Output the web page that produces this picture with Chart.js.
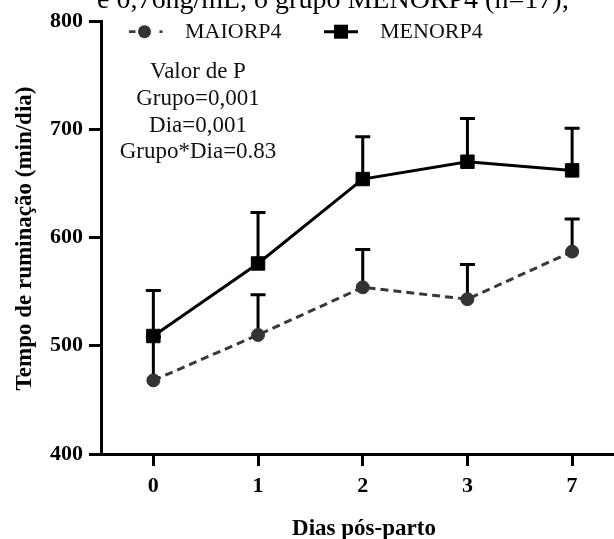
<!DOCTYPE html>
<html>
<head>
<meta charset="utf-8">
<script src="https://cdn.jsdelivr.net/npm/chart.js@4"></script>
<style>
  html, body { margin: 0; padding: 0; background: #fff; overflow: hidden; }
  canvas { display: block; }
</style>
</head>
<body>
<canvas id="chart" width="614" height="539"></canvas>
<script>
// Dias pós-parto (categories)
const days = ['0', '1', '2', '3', '7'];
// MAIORP4 (circles, dashed) mean and upper error
const maiorMean = [468, 510, 554, 543, 587];
const maiorErr = [40, 37, 35, 32, 30];
// MENORP4 (squares, solid) mean and upper error
const menorMean = [509, 576, 654, 670, 662];
const menorErr = [42, 47, 39, 40, 39];
// y axis ticks
const yTicks = [400, 500, 600, 700, 800];

const statsLines = ['Valor de P', 'Grupo=0,001', 'Dia=0,001', 'Grupo*Dia=0.83'];
const caption = 'e 0,76ng/mL, o grupo MENORP4 (n=17);';

const SERIF = '"Liberation Serif", "Times New Roman", serif';

const extras = {
    id: 'extras',
    beforeDatasetsDraw(chart) {
        // error bars (upper only) under the markers
        const { ctx, scales: { x, y } } = chart;
        ctx.save();
        ctx.strokeStyle = '#000';
        ctx.lineWidth = 3;
        [[maiorMean, maiorErr], [menorMean, menorErr]].forEach(([mean, err]) => {
            mean.forEach((v, i) => {
                const px = x.getPixelForValue(i);
                const y0 = y.getPixelForValue(v);
                const y1 = y.getPixelForValue(v + err[i]);
                ctx.beginPath();
                ctx.moveTo(px, y0);
                ctx.lineTo(px, y1);
                ctx.moveTo(px - 7.5, y1);
                ctx.lineTo(px + 7.5, y1);
                ctx.stroke();
            });
        });
        ctx.restore();
    },
    afterDraw(chart) {
        const { ctx } = chart;
        ctx.save();
        ctx.fillStyle = '#000';

        // cut-off caption line at the top
        ctx.font = '28px ' + SERIF;
        ctx.textAlign = 'left';
        ctx.textBaseline = 'alphabetic';
        ctx.fillText(caption, 97, 7.5);

        // legend
        const ly = 31.7;
        ctx.strokeStyle = '#3d3d3d';
        ctx.lineWidth = 2.8;
        ctx.beginPath();
        ctx.moveTo(129, ly); ctx.lineTo(135.5, ly);
        ctx.moveTo(159.5, ly); ctx.lineTo(162.5, ly);
        ctx.stroke();
        ctx.fillStyle = '#333';
        ctx.beginPath();
        ctx.arc(144.5, ly, 6.5, 0, Math.PI * 2);
        ctx.fill();

        ctx.strokeStyle = '#000';
        ctx.lineWidth = 3;
        ctx.beginPath();
        ctx.moveTo(324, ly); ctx.lineTo(358, ly);
        ctx.stroke();
        ctx.fillStyle = '#000';
        ctx.fillRect(334, ly - 7, 14, 14);

        ctx.font = '22px ' + SERIF;
        ctx.fillStyle = '#111';
        ctx.fillText('MAIORP4', 185, 38.3);
        ctx.fillText('MENORP4', 380, 38.3);

        // P value block
        ctx.font = '23px ' + SERIF;
        ctx.textAlign = 'center';
        statsLines.forEach((t, i) => ctx.fillText(t, 198, 78.3 + i * 26.7));

        // axis titles
        ctx.fillStyle = '#000';
        ctx.font = 'bold 23px ' + SERIF;
        ctx.fillText('Dias pós-parto', 364, 535);

        ctx.translate(25, 238.5);
        ctx.rotate(-Math.PI / 2);
        ctx.textBaseline = 'middle';
        ctx.fillText('Tempo de ruminação (min/dia)', 0, 0);
        ctx.restore();
    }
};

new Chart(document.getElementById('chart'), {
    type: 'line',
    data: {
        datasets: [
            {
                label: 'MAIORP4',
                data: maiorMean.map((v, i) => ({ x: i, y: v })),
                borderColor: '#383838',
                borderWidth: 3,
                borderDash: [8, 5],
                pointStyle: 'circle',
                pointRadius: 6.5,
                pointBackgroundColor: '#333',
                pointBorderColor: '#333',
                pointBorderWidth: 1,
                tension: 0
            },
            {
                label: 'MENORP4',
                data: menorMean.map((v, i) => ({ x: i, y: v })),
                borderColor: '#000',
                borderWidth: 3,
                pointStyle: 'rect',
                pointRadius: 9.5,
                pointBackgroundColor: '#000',
                pointBorderColor: '#000',
                pointBorderWidth: 1,
                tension: 0
            }
        ]
    },
    options: {
        responsive: false,
        animation: false,
        devicePixelRatio: 1,
        layout: { autoPadding: false, padding: { top: 21, right: 0, left: 0, bottom: 0 } },
        plugins: {
            legend: { display: false },
            tooltip: { enabled: false }
        },
        scales: {
            x: {
                type: 'linear',
                min: -0.5,
                max: 4.4,
                afterBuildTicks: (scale) => { scale.ticks = days.map((d, i) => ({ value: i })); },
                afterFit: (scale) => {
                    scale.height = 85;
                    scale.paddingLeft = 0;
                    scale.paddingRight = 0;
                },
                border: { display: true, color: '#000', width: 3 },
                grid: { drawOnChartArea: false, color: '#000', lineWidth: 3, tickLength: 12 },
                ticks: {
                    color: '#000',
                    padding: 7,
                    font: { family: SERIF, size: 22, weight: 'bold' },
                    callback: (v) => days[v]
                }
            },
            y: {
                min: 400,
                max: 800,
                afterBuildTicks: (scale) => { scale.ticks = yTicks.map(v => ({ value: v })); },
                afterFit: (scale) => {
                    scale.width = 101;
                    scale.paddingTop = 0;
                    scale.paddingBottom = 0;
                },
                border: { display: true, color: '#000', width: 3 },
                grid: { drawOnChartArea: false, color: '#000', lineWidth: 3, tickLength: 12 },
                ticks: {
                    color: '#000',
                    padding: 6,
                    font: { family: SERIF, size: 22, weight: 'bold' }
                }
            }
        }
    },
    plugins: [extras]
});
</script>
</body>
</html>
